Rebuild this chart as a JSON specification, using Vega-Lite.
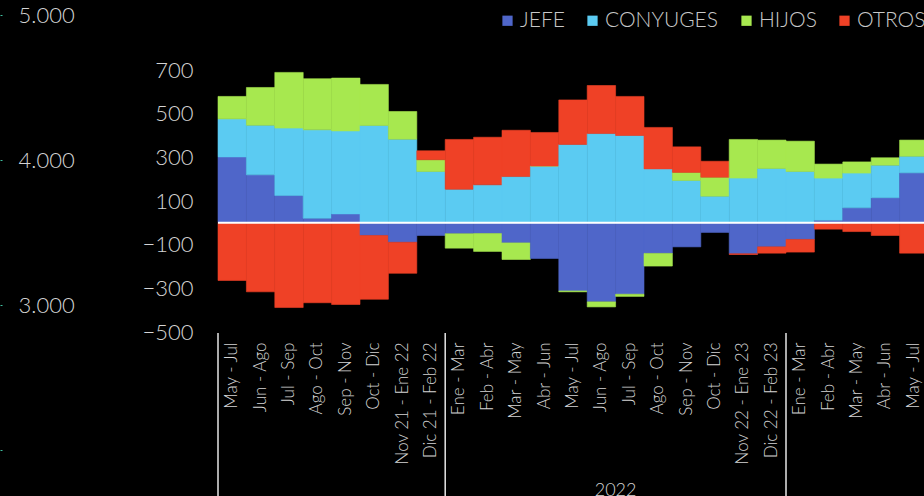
{
  "$schema": "https://vega.github.io/schema/vega-lite/v6.json",
  "width": 706,
  "height": 262,
  "autosize": {"type": "none"},
  "padding": {"left": 218, "top": 70, "right": 0, "bottom": 164},
  "background": "#000000",
  "config": {
    "view": {"stroke": null},
    "font": "Lato",
    "axis": {"grid": false, "domain": false, "ticks": false, "labelColor": "#d4d4d4", "labelFont": "Lato", "labelFontWeight": 300}
  },
  "datasets": {
    "periodos": [
      {"clave": "2021|May - Jul", "JEFE": 302, "CONYUGES": 174, "HIJOS": 103, "OTROS": -264},
      {"clave": "2021|Jun - Ago", "JEFE": 220, "CONYUGES": 227, "HIJOS": 173, "OTROS": -316},
      {"clave": "2021|Jul - Sep", "JEFE": 125, "CONYUGES": 309, "HIJOS": 255, "OTROS": -388},
      {"clave": "2021|Ago - Oct", "JEFE": 21, "CONYUGES": 405, "HIJOS": 234, "OTROS": -366},
      {"clave": "2021|Sep - Nov", "JEFE": 41, "CONYUGES": 380, "HIJOS": 242, "OTROS": -374},
      {"clave": "2021|Oct - Dic", "JEFE": -58, "CONYUGES": 446, "HIJOS": 188, "OTROS": -292},
      {"clave": "2021|Nov 21 - Ene 22", "JEFE": -89, "CONYUGES": 383, "HIJOS": 127, "OTROS": -142},
      {"clave": "2021|Dic 21 - Feb 22", "JEFE": -58, "CONYUGES": 235, "HIJOS": 54, "OTROS": 41},
      {"clave": "2022|Ene - Mar", "JEFE": -50, "CONYUGES": 154, "HIJOS": -66, "OTROS": 228},
      {"clave": "2022|Feb - Abr", "JEFE": -49, "CONYUGES": 174, "HIJOS": -82, "OTROS": 218},
      {"clave": "2022|Mar - May", "JEFE": -92, "CONYUGES": 212, "HIJOS": -76, "OTROS": 212},
      {"clave": "2022|Abr - Jun", "JEFE": -163, "CONYUGES": 260, "HIJOS": 0, "OTROS": 154},
      {"clave": "2022|May - Jul", "JEFE": -312, "CONYUGES": 359, "HIJOS": -4, "OTROS": 204},
      {"clave": "2022|Jun - Ago", "JEFE": -362, "CONYUGES": 409, "HIJOS": -23, "OTROS": 220},
      {"clave": "2022|Jul - Sep", "JEFE": -327, "CONYUGES": 400, "HIJOS": -10, "OTROS": 179},
      {"clave": "2022|Ago - Oct", "JEFE": -140, "CONYUGES": 247, "HIJOS": -58, "OTROS": 190},
      {"clave": "2022|Sep - Nov", "JEFE": -110, "CONYUGES": 194, "HIJOS": 37, "OTROS": 117},
      {"clave": "2022|Oct - Dic", "JEFE": -44, "CONYUGES": 122, "HIJOS": 87, "OTROS": 73},
      {"clave": "2022|Nov 22 - Ene 23", "JEFE": -142, "CONYUGES": 205, "HIJOS": 177, "OTROS": -3},
      {"clave": "2022|Dic 22 - Feb 23", "JEFE": -110, "CONYUGES": 249, "HIJOS": 130, "OTROS": -29},
      {"clave": "2023|Ene - Mar", "JEFE": -76, "CONYUGES": 235, "HIJOS": 139, "OTROS": -58},
      {"clave": "2023|Feb - Abr", "JEFE": 12, "CONYUGES": 193, "HIJOS": 64, "OTROS": -29},
      {"clave": "2023|Mar - May", "JEFE": 69, "CONYUGES": 159, "HIJOS": 51, "OTROS": -40},
      {"clave": "2023|Abr - Jun", "JEFE": 115, "CONYUGES": 149, "HIJOS": 34, "OTROS": -58},
      {"clave": "2023|May - Jul", "JEFE": 229, "CONYUGES": 76, "HIJOS": 74, "OTROS": -139}
    ],
    "grupos": [
      {"anio": "2021", "clave": "2021|May - Jul"},
      {"anio": "2022", "clave": "2022|Ene - Mar"},
      {"anio": "2023", "clave": "2023|Ene - Mar"}
    ],
    "etiqueta": [
      {"anio": "2022", "clave": "2022|Jul - Sep"}
    ],
    "escala2": [{"v": 2000}, {"v": 5000}]
  },
  "layer": [
    {
      "layer": [
        {
          "data": {"name": "periodos"},
          "transform": [
            {"fold": ["JEFE", "CONYUGES", "HIJOS", "OTROS"], "as": ["serie", "valor"]},
            {"calculate": "indexof(['JEFE','CONYUGES','HIJOS','OTROS'], datum.serie)", "as": "orden"}
          ],
          "mark": {"type": "bar", "strokeWidth": 0.6},
          "encoding": {
            "x": {
              "field": "clave", "type": "ordinal", "sort": null,
              "scale": {"range": [0, 710], "paddingInner": 0, "paddingOuter": 0},
              "axis": {"title": null, "labelAngle": -90, "labelAlign": "right", "labelBaseline": "middle", "labelExpr": "split(datum.label, '|')[1]", "labelFontSize": 17, "labelPadding": 10}
            },
            "y": {
              "field": "valor", "type": "quantitative", "stack": "zero",
              "scale": {"domain": [-500, 700], "nice": false, "zero": false},
              "axis": {"title": null, "values": [-500, -300, -100, 100, 300, 500, 700], "labelFontSize": 22, "labelPadding": 25}
            },
            "color": {
              "field": "serie", "type": "nominal",
              "scale": {"domain": ["JEFE", "CONYUGES", "HIJOS", "OTROS"], "range": ["#4f66c9", "#5bcbf2", "#a7e84f", "#ef4126"]},
              "legend": {"orient": "none", "legendX": 279, "legendY": -60, "direction": "horizontal", "title": null, "symbolType": "square", "symbolSize": 105, "symbolStrokeWidth": 0, "labelFontSize": 21, "labelColor": "#c8c8c8", "labelFont": "Lato", "labelFontWeight": 300, "columnPadding": 17, "labelOffset": 2, "padding": 0}
            },
            "stroke": {
              "field": "serie", "type": "nominal",
              "scale": {"domain": ["JEFE", "CONYUGES", "HIJOS", "OTROS"], "range": ["#4f66c9", "#5bcbf2", "#a7e84f", "#ef4126"]},
              "legend": null
            },
            "order": {"field": "orden", "type": "quantitative"}
          }
        },
        {
          "data": {"values": [{}]},
          "mark": {"type": "rule", "color": "#ffffff", "strokeWidth": 2},
          "encoding": {"y": {"datum": 0}}
        },
        {
          "data": {"name": "grupos"},
          "mark": {"type": "rule", "color": "#e6e6e6", "strokeWidth": 1.5},
          "encoding": {
            "x": {"field": "clave", "type": "ordinal", "sort": null, "bandPosition": 0},
            "y": {"datum": -505},
            "y2": {"datum": -1270}
          }
        },
        {
          "data": {"name": "etiqueta"},
          "mark": {"type": "text", "color": "#d4d4d4", "fontSize": 18, "baseline": "alphabetic", "align": "center", "font": "Lato", "fontWeight": 300},
          "encoding": {
            "x": {"field": "clave", "type": "ordinal", "sort": null, "bandPosition": 0},
            "y": {"datum": -1249},
            "text": {"field": "anio"}
          }
        }
      ]
    },
    {
      "data": {"name": "escala2"},
      "mark": {"type": "tick", "opacity": 0},
      "encoding": {
        "y": {
          "field": "v", "type": "quantitative",
          "scale": {"domain": [2000, 5000], "range": [380, -55], "nice": false, "zero": false},
          "axis": {"orient": "right", "offset": -924, "title": null, "values": [2000, 3000, 4000, 5000], "ticks": true, "tickSize": 2, "tickColor": "#3fbf9f", "labelPadding": 16, "labelFontSize": 22, "labelExpr": "datum.value == 2000 ? '' : replace(format(datum.value, ','), ',', '.')"}
        }
      }
    }
  ],
  "resolve": {"scale": {"y": "independent"}}
}
